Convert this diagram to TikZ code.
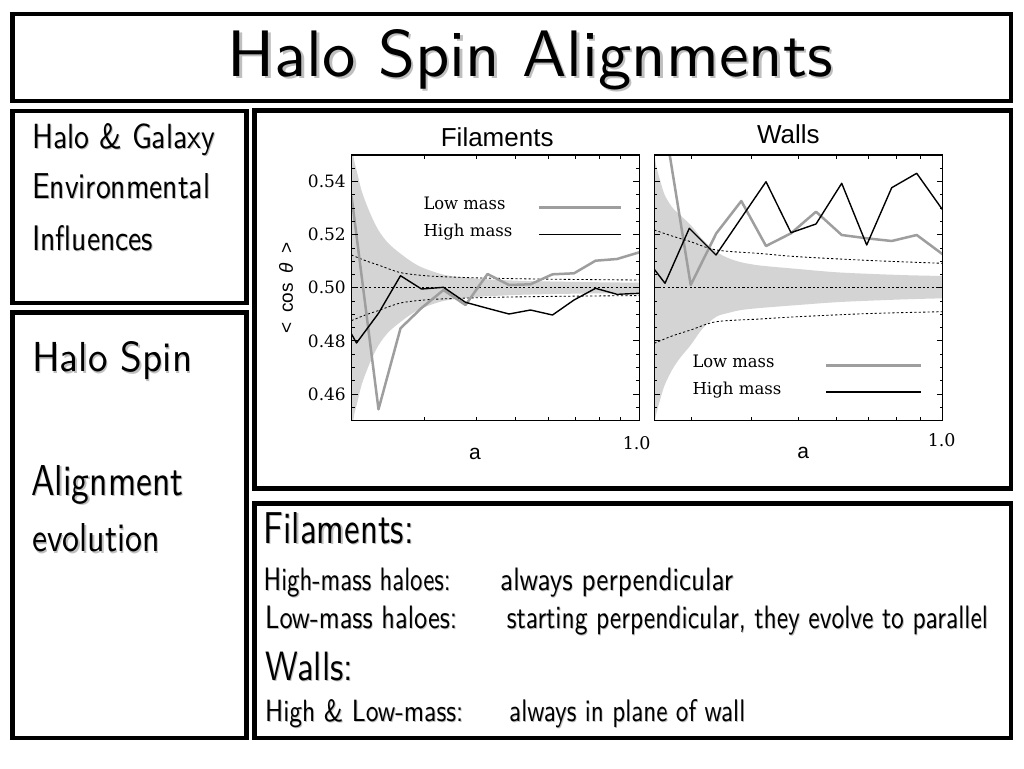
\documentclass[tikz,border=0pt]{standalone}
\usepackage{fontspec}
\usepackage{graphicx}
\newcommand\papfont{\sffamily}
\newfontfamily\axsans{Liberation Sans}
\newfontfamily\axserif{DejaVu Serif}
\newcommand\shd[1]{\leavevmode\rlap{\kern0.035em\raisebox{-0.035em}{\textcolor{black!25}{#1}}}#1}
\newcommand\ptext[3]{\resizebox{#1pt}{#2pt}{\papfont\shd{#3}}}
\newcommand\stext[3]{\resizebox{#1pt}{#2pt}{#3}}
\tikzset{
  boxline/.style={draw=black, line width=4.5pt},
  frameline/.style={draw=black, line width=1.1pt},
  tickline/.style={draw=black, line width=0.9pt},
  band/.style={fill=black!17, draw=none},
  refline/.style={draw=black, line width=0.85pt, dash pattern=on 2.2pt off 2.2pt},
  lowline/.style={draw=black!38, line width=2.5pt, line join=round},
  highline/.style={draw=black, line width=1.4pt, line join=round},
  ptxt/.style={anchor=base west, inner sep=0pt},
  ylab/.style={anchor=east, inner sep=0pt, font=\axserif\fontsize{17}{17}\selectfont},
}
\begin{document}
\begin{tikzpicture}[x=1pt,y=-1pt]
\useasboundingbox (0,0) rectangle (1024,768);
\fill[white] (0,0) rectangle (1024,768);

% ---------- panel frames ----------
\draw[boxline] (12.5,14) rectangle (1011,101);
\draw[boxline] (12.5,110.8) rectangle (246.3,303);
\draw[boxline] (12.5,312.5) rectangle (246.3,738);
\draw[boxline] (254.3,110.3) rectangle (1011,488.7);
\draw[boxline] (254.3,503.7) rectangle (1011,738);

% ---------- papyrus-like texts ----------
\node[ptxt] (title) at (227.5,76) {\ptext{605}{47}{Halo Spin Alignments}};
\node[ptxt] (l1) at (32,148.3) {\ptext{183}{25}{Halo \& Galaxy}};
\node[ptxt] (l2) at (32,198.3) {\ptext{178}{25}{Environmental}};
\node[ptxt] (l3) at (32,250) {\ptext{121}{25}{Influences}};
\node[ptxt] (m1) at (32,371.7) {\ptext{160}{30}{Halo Spin}};
\node[ptxt] (m2) at (31,495) {\ptext{152}{30}{Alignment}};
\node[ptxt] (m3) at (32,551.7) {\ptext{128}{28}{evolution}};
\node[ptxt] (b1) at (263.5,543.3) {\ptext{150}{31}{Filaments:}};
\node[ptxt] (b2) at (263.5,590) {\ptext{187}{22.5}{High-mass haloes:}};
\node[ptxt] (b2r) at (500,590) {\ptext{233}{22.5}{always perpendicular}};
\node[ptxt] (b3) at (265,628.3) {\ptext{192}{22.5}{Low-mass haloes:}};
\node[ptxt] (b3r) at (506.7,628.3) {\ptext{481}{22.5}{starting perpendicular, they evolve to parallel}};
\node[ptxt] (b4) at (265,680.5) {\ptext{88}{28.4}{Walls:}};
\node[ptxt] (b5) at (265,721) {\ptext{198}{22}{High \& Low-mass:}};
\node[ptxt] (b5r) at (509,721) {\ptext{236}{22}{always in plane of wall}};

% ---------- Filaments plot ----------
\begin{scope}
\clip (351.5,155) rectangle (639.3,420.5);
\fill[band] plot[smooth] coordinates {(351.5,140) (354,160) (357,172) (362,192) (370,213) (378.3,230) (388,243) (400,253.3) (412,262) (423.3,268) (445,275) (475,278.5) (520,280.8) (580,282) (639.3,282.7)}
  -- (645,282.7) -- (645,293)
  -- plot[smooth] coordinates {(639.3,293) (580,293.6) (520,294.8) (475,297.1) (445,300.6) (423.3,307.6) (412,313.6) (400,322.3) (388,332.6) (378.3,345.6) (370,362.6) (362,383.6) (357,403.6) (354,415.6) (351.5,435.6)} -- cycle;
\draw[refline] plot[smooth] coordinates {(351.5,255) (365,260.5) (378.3,265) (400,272.5) (423,275.5) (445,276.8) (495,278.3) (560,279.3) (639.3,280)};
\draw[refline] plot[smooth] coordinates {(351.5,320.6) (365,315.1) (378.3,310.6) (400,303.1) (423,300.1) (445,298.8) (495,297.3) (560,296.3) (639.3,295.6)};
\draw[refline] (351.5,287.8) -- (639.3,287.8);
\draw[lowline] (351.5,196) -- (378.5,409.3) -- (400.5,328.3) -- (421.5,308) -- (443.5,290) -- (465.5,305) -- (487.5,274) -- (509,285) -- (530.5,284.3) -- (552.5,274.3) -- (574,273.3) -- (595.5,260.7) -- (617,259) -- (639.3,252.3);
\draw[highline] (351.5,334) -- (356.5,343) -- (378.5,313.3) -- (400.5,275.7) -- (421.5,289) -- (443.5,287.3) -- (465.5,302.3) -- (487.5,308.3) -- (509,314) -- (530.5,310) -- (552.5,315) -- (574,300) -- (595.5,288.3) -- (617,294.3) -- (639.3,293.3);
\end{scope}
\draw[frameline] (351.5,155) rectangle (639.3,420.5);

% ---------- Walls plot ----------
\begin{scope}
\clip (654.3,155) rectangle (942.7,420.5);
\fill[band] plot[smooth] coordinates {(654.3,150) (656,165) (660,180) (664.7,195) (672,207) (680,215) (690.7,225) (703,240) (716.3,251.7) (728,258) (741.3,262.3) (760,265.5) (798,269) (840,272.5) (900,275) (942.7,276)}
  -- (948,276) -- (948,298.3)
  -- plot[smooth] coordinates {(942.7,298.3) (900,299.5) (840,302) (798,305) (760,308) (741.3,310) (728,313) (716.3,316.7) (703,328) (690.7,345) (680,358) (672,370) (664.7,385) (660,400) (656,415) (654.3,425)} -- cycle;
\draw[refline] plot[smooth] coordinates {(654.3,230) (672,236) (690.7,241.7) (716.3,250) (760,253.5) (798,256.7) (870,260.5) (942.7,263.3)};
\draw[refline] plot[smooth] coordinates {(654.3,343.3) (672,336) (690.7,330) (716.3,321.7) (760,319) (798,316.7) (870,313.5) (942.7,311.7)};
\draw[refline] (654.3,287.3) -- (942.7,287.3);
\draw[lowline] (667.3,140) -- (690.7,285) -- (716.3,233.3) -- (741.3,201) -- (766,246) -- (791,233.3) -- (816,211.7) -- (841.7,235) -- (866.7,238.3) -- (891.7,241) -- (916.7,235) -- (942.7,254.3);
\draw[highline] (654.3,269.3) -- (665,283.3) -- (689.3,228.3) -- (716,255) -- (766,181.7) -- (791,232.7) -- (816,224) -- (841.7,183.3) -- (866.7,245) -- (891.7,187.7) -- (916.7,173.3) -- (942.7,210);
\end{scope}
\draw[frameline] (654.3,155) rectangle (942.7,420.5);

% ---------- ticks ----------
\foreach \k in {-9,...,9}{
  \pgfmathsetmacro\yy{287.8-13.275*\k}
  \pgfmathsetmacro\len{ifthenelse(mod(\k,4)==0,6,3)}
  \draw[tickline] (351.5,\yy) -- ++(\len,0);
  \draw[tickline] (639.3,\yy) -- ++(-\len,0);
  \draw[tickline] (654.3,\yy) -- ++(\len,0);
  \draw[tickline] (942.7,\yy) -- ++(-\len,0);
}
\foreach \a in {0.3,0.4,0.5,0.6,0.7,0.8,0.9}{
  \pgfmathsetmacro\xf{639.3+410*log10(\a)}
  \pgfmathsetmacro\xw{942.7+480*log10(\a)}
  \draw[tickline] (\xf,420.5) -- ++(0,-4);
  \draw[tickline] (\xf,155) -- ++(0,4);
  \draw[tickline] (\xw,420.5) -- ++(0,-4);
  \draw[tickline] (\xw,155) -- ++(0,4);
}

% ---------- axis labels ----------
\node[ylab] (y54) at (346,181.6) {0.54};
\node[ylab] (y52) at (346,234.7) {0.52};
\node[ylab] (y50) at (346,287.8) {0.50};
\node[ylab] (y48) at (346,340.9) {0.48};
\node[ylab] (y46) at (346,394) {0.46};
\node[rotate=90, inner sep=0pt] (yax) at (286,288) {\axsans\fontsize{19}{19}\selectfont <\hspace{0.5em}cos\hspace{0.5em}\textit{θ}\hspace{0.5em}>};
\node[anchor=base, inner sep=0pt] (tfil) at (497.2,146) {\axsans\fontsize{26}{26}\selectfont Filaments};
\node[anchor=base, inner sep=0pt] (twal) at (788.3,143.3) {\axsans\fontsize{26}{26}\selectfont Walls};
\node[inner sep=0pt] (xafil) at (475,454) {\axsans\fontsize{21}{21}\selectfont a};
\node[inner sep=0pt] (xawal) at (803.3,453.3) {\axsans\fontsize{21}{21}\selectfont a};
\node[anchor=base, inner sep=0pt] (onefil) at (636.7,449) {\axserif\fontsize{17.5}{17.5}\selectfont 1.0};
\node[anchor=base, inner sep=0pt] (onewal) at (941.7,446.7) {\axserif\fontsize{17.5}{17.5}\selectfont 1.0};

% ---------- legends ----------
\node[ptxt] (lgfl) at (423.3,209.3) {\stext{82}{12.5}{\axserif Low mass}};
\node[ptxt] (lgfh) at (423.3,236) {\stext{89}{12.5}{\axserif High mass}};
\coordinate (lfl1) at (539,207.3); \coordinate (lfl2) at (620.7,207.3);
\coordinate (lfh1) at (539,234.3); \coordinate (lfh2) at (620.7,234.3);
\draw[lowline] (lfl1) -- (lfl2);
\draw[highline] (lfh1) -- (lfh2);
\node[ptxt] (lgwl) at (692.3,367.7) {\stext{82}{12.5}{\axserif Low mass}};
\node[ptxt] (lgwh) at (692.3,394) {\stext{89}{12.5}{\axserif High mass}};
\coordinate (lwl1) at (826,365.7); \coordinate (lwl2) at (920.7,365.7);
\coordinate (lwh1) at (826,392); \coordinate (lwh2) at (920.7,392);
\draw[lowline] (lwl1) -- (lwl2);
\draw[highline] (lwh1) -- (lwh2);
\end{tikzpicture}
\end{document}
